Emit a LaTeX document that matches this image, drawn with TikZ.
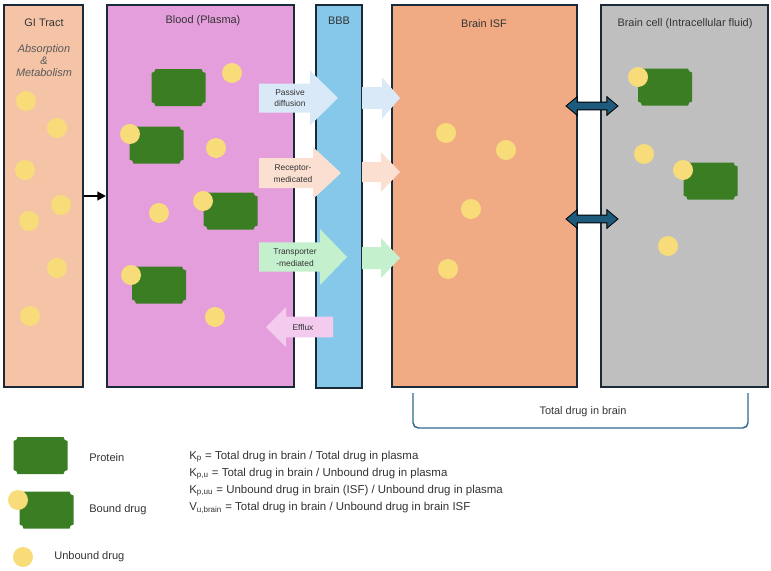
\documentclass[tikz,border=0pt]{standalone}
\usepackage{fontspec}
\setmainfont{Liberation Sans}
\usetikzlibrary{arrows.meta,fit,shapes.arrows}
\definecolor{edgenavy}{HTML}{1B2A39}
\definecolor{gicol}{HTML}{F5C4A7}
\definecolor{bloodcol}{HTML}{E59EDC}
\definecolor{bbbcol}{HTML}{86C8EA}
\definecolor{isfcol}{HTML}{F1AB84}
\definecolor{cellcol}{HTML}{BFBFBF}
\definecolor{protgreen}{HTML}{3B7D23}
\definecolor{drugyellow}{HTML}{F8DC7A}
\definecolor{passivecol}{HTML}{DAE9F7}
\definecolor{receptorcol}{HTML}{FBE0D2}
\definecolor{transpcol}{HTML}{C4F0CD}
\definecolor{effluxcol}{HTML}{F2CBEF}
\definecolor{xchgcol}{HTML}{1D5A7C}
\definecolor{bracecol}{HTML}{30698F}
\definecolor{txtgray}{HTML}{333333}
\newcommand{\blockarrow}[7]{\fill[#1] (#2,#5-#6) -- (#3,#5-#6) -- (#3,#5-#7) -- (#4,#5) -- (#3,#5+#7) -- (#3,#5+#6) -- (#2,#5+#6) -- cycle;}

\begin{document}
\begin{tikzpicture}[x=0.75pt, y=-0.75pt,
	compartment/.style={draw=edgenavy, line width=1.5pt, inner sep=0pt},
	heading/.style={font=\fontsize{8.2}{10}\selectfont, text=txtgray},
	arrowtxt/.style={font=\fontsize{6.3}{8.5}\selectfont, align=center, text=txtgray},
	legendtxt/.style={font=\fontsize{8.3}{10}\selectfont, text=txtgray, anchor=west, inner sep=0pt},
	eqtxt/.style={font=\fontsize{8.6}{10}\selectfont, text=txtgray, anchor=west, inner sep=0pt},
	drug/.style={circle, fill=drugyellow, minimum size=15pt, inner sep=0pt},
	exchange/.style={double arrow, fill=xchgcol, draw=black, line width=0.6pt, minimum height=39pt, inner sep=2.6pt, double arrow head extend=4.1pt, double arrow tip angle=80},
	protein/.pic={\fill[protgreen] (-23,-18.5) -- (23,-18.5) arc[start angle=180, end angle=90, radius=4] -- (27,14.5) arc[start angle=270, end angle=180, radius=4] -- (-23,18.5) arc[start angle=0, end angle=-90, radius=4] -- (-27,-14.5) arc[start angle=90, end angle=0, radius=4] -- cycle;}]
	\useasboundingbox (0,0) rectangle (771,571);
	\node[compartment, fill=gicol, fit={(4,5) (83,387)}] (gi) {};
	\node[compartment, fill=bloodcol, fit={(107,5) (294,387)}] (blood) {};
	\node[compartment, fill=bbbcol, fit={(316,5) (362,388)}] (bbb) {};
	\node[compartment, fill=isfcol, fit={(392,5) (577,387)}] (isf) {};
	\node[compartment, fill=cellcol, fit={(601,5) (768,387)}] (cell) {};
	\node[heading] (gititle) at (44,23) {GI Tract};
	\node[heading, font=\fontsize{8.2}{9}\selectfont\itshape, align=center, text=black!65] (gisub) at (44,61) {Absorption\\\&\\Metabolism};
	\node[heading] (bloodtitle) at (203,21) {Blood (Plasma)};
	\node[heading] (bbbtitle) at (339,21) {BBB};
	\node[heading] (isftitle) at (484,24) {Brain ISF};
	\node[heading] (celltitle) at (685,24) {Brain cell (Intracellular fluid)};
	\draw[line width=1.5pt, -{Triangle[length=6.5pt, width=6.5pt]}] (gi.east) -- (blood.west);
	\node[drug] (druggi1) at (26,101) {};
	\node[drug] (druggi2) at (57,128) {};
	\node[drug] (druggi3) at (25,170) {};
	\node[drug] (druggi4) at (61,205) {};
	\node[drug] (druggi5) at (29,221) {};
	\node[drug] (druggi6) at (57,268) {};
	\node[drug] (druggi7) at (30,316) {};
	\pic at (178.5,87.5) {protein};
	\pic at (156.5,145) {protein};
	\pic at (230.5,211) {protein};
	\pic at (159,285) {protein};
	\node[drug] (drugblood1) at (232,73) {};
	\node[drug] (drugblood2) at (130,134) {};
	\node[drug] (drugblood3) at (216,148) {};
	\node[drug] (drugblood4) at (159,213) {};
	\node[drug] (drugblood5) at (203,201) {};
	\node[drug] (drugblood6) at (131,275) {};
	\node[drug] (drugblood7) at (215,317) {};
	\node[drug] (drugisf1) at (446,133) {};
	\node[drug] (drugisf2) at (506,150) {};
	\node[drug] (drugisf3) at (471,209) {};
	\node[drug] (drugisf4) at (448,269) {};
	\pic at (665,87) {protein};
	\pic at (710.5,181) {protein};
	\node[drug] (drugcell1) at (638,77) {};
	\node[drug] (drugcell2) at (644,154) {};
	\node[drug] (drugcell3) at (683,170) {};
	\node[drug] (drugcell4) at (668,246) {};
	\blockarrow{passivecol}{259}{310}{338}{98}{14.5}{27.5}
	\blockarrow{passivecol}{362}{382}{400}{98}{10.8}{20.8}
	\blockarrow{receptorcol}{259}{313}{341}{173}{15}{26}
	\blockarrow{receptorcol}{362}{381}{400}{172}{10}{20}
	\blockarrow{transpcol}{259}{320}{347}{257}{14.7}{28}
	\blockarrow{transpcol}{362}{381}{400}{258}{11}{20}
	\blockarrow{effluxcol}{333}{286}{266}{327}{10.3}{20}
	\node[arrowtxt] (passivetxt) at (290,98) {Passive\\diffusion};
	\node[arrowtxt] (receptortxt) at (293,173.5) {Receptor-\\medicated};
	\node[arrowtxt] (transptxt) at (295,257.5) {Transporter\\-mediated};
	\node[arrowtxt] (effluxtxt) at (303,327) {Efflux};
	\node[exchange] (xchg1) at (592,106) {};
	\node[exchange] (xchg2) at (592,219) {};
	\draw[draw=bracecol, line width=1.1pt, rounded corners=4pt] (413,393) -- (413,428) -- (748,428) -- (748,393);
	\node[heading] (totaltxt) at (583,412) {Total drug in brain};
	\pic at (40.5,455.5) {protein};
	\pic at (46.5,510) {protein};
	\node[drug] (druglegend1) at (18,500) {};
	\node[drug] (druglegend2) at (23,557) {};
	\node[legendtxt] (proteintxt) at (89,458) {Protein};
	\node[legendtxt] (boundtxt) at (89,510) {Bound drug};
	\node[legendtxt] (unboundtxt) at (54,557) {Unbound drug};
	\node[eqtxt] (eqkp) at (189,457) {K\textsubscript{p} = Total drug in brain / Total drug in plasma};
	\node[eqtxt] (eqkpu) at (189,474) {K\textsubscript{p,u} = Total drug in brain / Unbound drug in plasma};
	\node[eqtxt] (eqkpuu) at (189,491) {K\textsubscript{p,uu} = Unbound drug in brain (ISF) / Unbound drug in plasma};
	\node[eqtxt] (eqvu) at (189,508) {V\textsubscript{u,brain} = Total drug in brain / Unbound drug in brain ISF};
\end{tikzpicture}
\end{document}
